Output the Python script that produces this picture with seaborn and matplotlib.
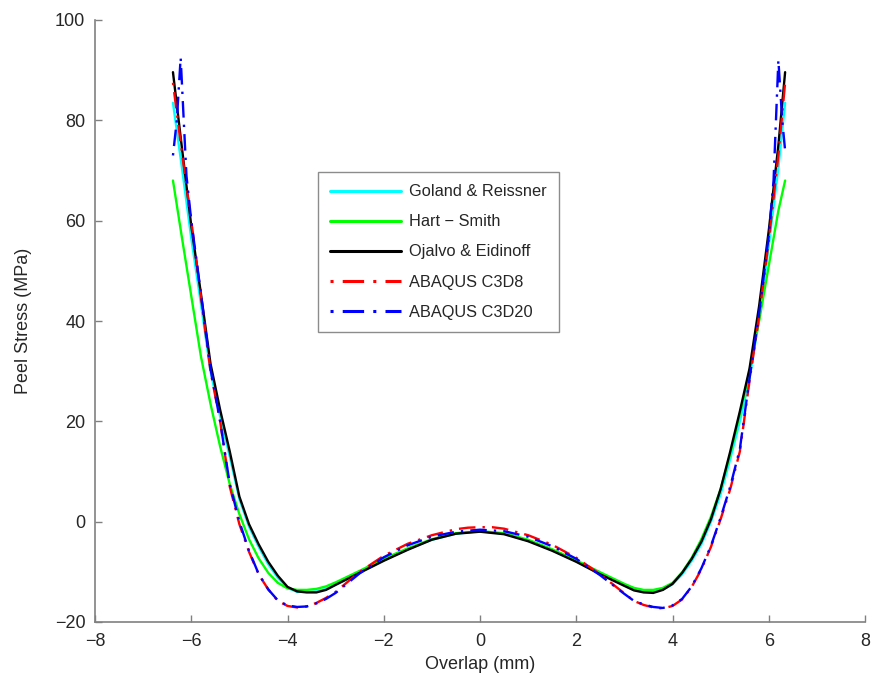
import matplotlib
matplotlib.use("Agg")
import matplotlib.pyplot as plt
import seaborn as sns
import pandas as pd

# ---------------- data ----------------
x_goland = [-6.38, -6.2, -6.0, -5.8, -5.6, -5.4, -5.2, -5.0, -4.8, -4.6, -4.4, -4.2, -4.0, -3.8, -3.6, -3.4, -3.2,
            -3.0, -2.5, -2.0, -1.5, -1.0, -0.5, 0.0, 0.5, 1.0, 1.5, 2.0, 2.5, 3.0, 3.2, 3.4, 3.6, 3.8, 4.0, 4.2,
            4.4, 4.6, 4.8, 5.0, 5.2, 5.4, 5.6, 5.8, 6.0, 6.2, 6.34]
y_goland = [83.5, 71.0, 56.5, 43.5, 30.0, 21.0, 13.0, 4.5, -1.0, -5.0, -8.5, -11.2, -13.2, -14.0, -14.0, -13.9, -13.4,
            -12.5, -10.1, -7.7, -5.5, -3.6, -2.4, -1.9, -2.4, -3.8, -5.7, -7.9, -10.4, -12.7, -13.6, -14.0, -14.0, -13.5,
            -12.5, -10.5, -7.8, -4.5, 0.0, 5.5, 12.5, 20.0, 28.5, 40.5, 55.0, 70.5, 83.5]

x_hart = [-6.38, -6.2, -6.0, -5.8, -5.6, -5.4, -5.2, -5.0, -4.8, -4.6, -4.4, -4.2, -4.0, -3.8, -3.6, -3.4, -3.2,
          -3.0, -2.5, -2.0, -1.5, -1.0, -0.5, 0.0, 0.5, 1.0, 1.5, 2.0, 2.5, 3.0, 3.2, 3.4, 3.6, 3.8, 4.0, 4.2,
          4.4, 4.6, 4.8, 5.0, 5.2, 5.4, 5.6, 5.8, 6.0, 6.2, 6.34]
y_hart = [68.0, 57.0, 45.0, 33.0, 23.5, 15.0, 7.5, 1.5, -3.5, -7.3, -10.2, -12.2, -13.3, -13.6, -13.6, -13.4, -12.9,
          -12.1, -9.8, -7.4, -5.3, -3.5, -2.3, -1.9, -2.3, -3.6, -5.5, -7.7, -10.1, -12.4, -13.2, -13.6, -13.6, -13.2,
          -12.2, -10.1, -7.2, -3.5, 1.0, 6.5, 13.5, 21.5, 30.0, 40.0, 51.0, 62.0, 68.0]

x_ojalvo = [-6.38, -6.2, -6.0, -5.8, -5.6, -5.4, -5.2, -5.0, -4.8, -4.6, -4.4, -4.2, -4.0, -3.8, -3.6, -3.4, -3.2,
            -3.0, -2.5, -2.0, -1.5, -1.0, -0.5, 0.0, 0.5, 1.0, 1.5, 2.0, 2.5, 3.0, 3.2, 3.4, 3.6, 3.8, 4.0, 4.2,
            4.4, 4.6, 4.8, 5.0, 5.2, 5.4, 5.6, 5.8, 6.0, 6.2, 6.34]
y_ojalvo = [89.6, 75.0, 59.0, 45.5, 31.5, 22.3, 14.0, 5.0, -0.5, -4.5, -8.0, -10.8, -13.0, -13.9, -14.1, -14.1, -13.6,
            -12.6, -10.2, -7.8, -5.6, -3.6, -2.4, -2.0, -2.5, -3.9, -5.8, -8.0, -10.5, -12.8, -13.7, -14.1, -14.2, -13.6,
            -12.4, -10.2, -7.4, -4.0, 0.5, 6.5, 14.0, 22.0, 30.5, 43.0, 58.0, 75.0, 89.6]

x_c3d8 = [-6.38, -6.2, -6.0, -5.8, -5.6, -5.4, -5.2, -5.0, -4.8, -4.6, -4.4, -4.2, -4.0, -3.8, -3.6, -3.4, -3.2,
          -3.0, -2.5, -2.0, -1.5, -1.0, -0.5, -0.25, 0.0, 0.25, 0.5, 1.0, 1.5, 2.0, 2.5, 3.0, 3.2, 3.4, 3.6, 3.8,
          4.0, 4.2, 4.4, 4.6, 4.8, 5.0, 5.2, 5.4, 5.6, 5.8, 6.0, 6.2, 6.34]
y_c3d8 = [87.5, 74.0, 60.0, 45.0, 30.0, 20.0, 7.0, -0.5, -6.0, -10.5, -13.5, -15.8, -16.8, -17.1, -16.9, -16.2, -15.2,
          -14.0, -10.0, -6.8, -4.4, -2.7, -1.5, -1.2, -1.1, -1.1, -1.4, -2.7, -4.6, -7.2, -10.5, -14.3, -15.8, -16.6,
          -17.1, -17.3, -16.8, -15.5, -13.0, -9.5, -5.0, 0.5, 6.5, 14.0, 28.0, 41.0, 56.0, 73.0, 87.5]

x_c3d20 = [-6.38, -6.3, -6.22, -6.1, -6.0, -5.8, -5.6, -5.4, -5.2, -5.0, -4.8, -4.6, -4.4, -4.2, -4.0, -3.8, -3.6,
           -3.4, -3.2, -3.0, -2.5, -2.0, -1.5, -1.0, -0.5, 0.0, 0.5, 1.0, 1.5, 2.0, 2.5, 3.0, 3.2, 3.4, 3.6, 3.8,
           4.0, 4.2, 4.4, 4.6, 4.8, 5.0, 5.2, 5.4, 5.6, 5.8, 6.0, 6.1, 6.2, 6.28, 6.34]
y_c3d20 = [73.0, 80.0, 92.5, 69.0, 60.0, 45.5, 30.5, 20.0, 7.5, 0.0, -5.8, -10.4, -13.5, -15.7, -16.7, -17.0, -16.9,
           -16.3, -15.4, -14.2, -10.3, -7.1, -4.7, -3.0, -2.0, -1.6, -1.9, -3.0, -4.9, -7.4, -10.7, -14.4, -15.8, -16.5,
           -17.0, -17.2, -16.7, -15.4, -12.9, -9.3, -4.8, 0.8, 7.0, 14.5, 28.5, 41.5, 57.0, 68.0, 92.0, 80.0, 74.0]

labels = ["Goland & Reissner", "Hart \u2212 Smith", "Ojalvo & Eidinoff", "ABAQUS C3D8", "ABAQUS C3D20"]
x_ticks = [-8, -6, -4, -2, 0, 2, 4, 6, 8]
y_ticks = [-20, 0, 20, 40, 60, 80, 100]

# ---------------- figure ----------------
sns.set_theme(style="white")
plt.rcParams["font.family"] = ["Liberation Sans", "DejaVu Sans"]

fig = plt.figure(figsize=(8.76, 6.88), dpi=100)
ax = fig.add_axes([95 / 876, 66 / 688, 770 / 876, 602 / 688])

series = [
    (x_goland, y_goland, "#00ffff", None),
    (x_hart, y_hart, "#00ff00", None),
    (x_ojalvo, y_ojalvo, "#000000", None),
    (x_c3d8, y_c3d8, "#ff0000", (1, 3, 7, 3)),
    (x_c3d20, y_c3d20, "#0000ff", (1, 3, 7, 3)),
]
for (xs, ys, col, dash), lab in zip(series, labels):
    df = pd.DataFrame({"x": xs, "y": ys})
    sns.lineplot(data=df, x="x", y="y", ax=ax, color=col, linewidth=1.7,
                 sort=False, estimator=None, label=lab)
    if dash is not None:
        ax.lines[-1].set_dashes(dash)

ax.set_xlim(-8, 8)
ax.set_ylim(-20, 100)
ax.set_xticks(x_ticks)
ax.set_yticks(y_ticks)
ax.set_xticklabels([str(v).replace("-", "\u2212") for v in x_ticks])
ax.set_yticklabels([str(v).replace("-", "\u2212") for v in y_ticks])
ax.tick_params(axis="both", direction="in", length=5, width=1, color="#808080",
               labelsize=13, labelcolor="#262626", bottom=True, left=True)
ax.tick_params(axis="x", pad=8)
ax.tick_params(axis="y", pad=7)
for s in ["top", "right"]:
    ax.spines[s].set_visible(False)
for s in ["left", "bottom"]:
    ax.spines[s].set_color("#808080")
    ax.spines[s].set_linewidth(1.2)

ax.set_xlabel("Overlap (mm)", fontsize=13, color="#262626", labelpad=4)
ax.set_ylabel("Peel Stress (MPa)", fontsize=13, color="#262626", labelpad=16)

leg = ax.legend(loc="upper left", bbox_to_anchor=((318 - 95) / 770, (622 - 172) / 602),
                borderaxespad=0, frameon=True, fancybox=False, fontsize=11.8,
                handlelength=4.3, labelspacing=0.92, handletextpad=0.5, borderpad=0.75)
leg.get_frame().set_edgecolor("#707070")
leg.get_frame().set_linewidth(1.0)
for t in leg.get_texts():
    t.set_color("#262626")
for h in leg.get_lines():
    h.set_linewidth(2.2)

fig.savefig("out.png", dpi=100)
